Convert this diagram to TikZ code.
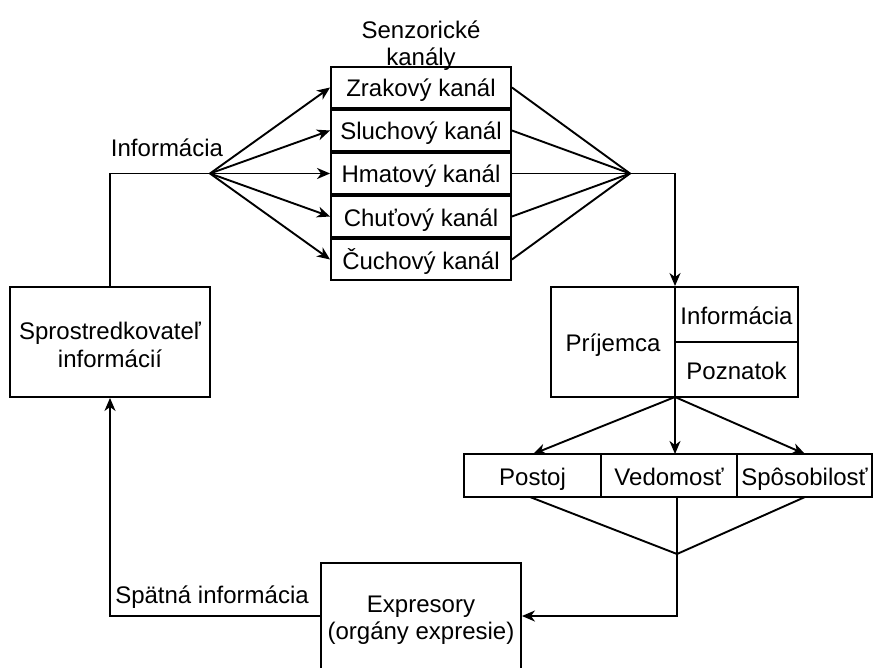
\documentclass[tikz,border=0pt]{standalone}
\usepackage{fontspec}
\setmainfont{Liberation Sans}
\usetikzlibrary{arrows.meta}
\begin{document}
\begin{tikzpicture}[x=1pt,y=-1pt,
  every node/.style={font=\fontsize{24}{27.5}\selectfont, inner sep=0pt},
  box/.style={draw, line width=1.9pt, align=center},
  one/.style={text height=19pt, text depth=0pt},
  chan/.style={box, one, minimum width=180pt, minimum height=41pt},
  conn/.style={line width=1.9pt},
  arr/.style={conn, -{Stealth[length=13pt, width=11pt, inset=4pt]}},
  lbl/.style={align=center}
]
\useasboundingbox (0,0) rectangle (874,668);
\fill[white] (0,0) rectangle (874,668);

% sensory channels
\node[lbl] (senz) at (421,45.5) {Senzorické\\kanály};
\node[chan] (zr) at (421,87.5)  {Zrakový kanál};
\node[chan] (sl) at (421,130.5) {Sluchový kanál};
\node[chan] (hm) at (421,173.5) {Hmatový kanál};
\node[chan] (ch) at (421,216.5) {Chuťový kanál};
\node[chan] (cu) at (421,259.5) {Čuchový kanál};

% mediator
\node[box, minimum width=200pt, minimum height=110pt] (spro) at (110,342) {};
\node[lbl] (sproT) at (110,345) {Sprostredkovateľ\\informácií};

% recipient
\node[box, one, minimum width=124pt, minimum height=110pt] (prij) at (613,342) {Príjemca};
\node[box, one, minimum width=123pt, minimum height=55pt] (pinf) at (736.5,314.5) {Informácia};
\node[box, one, minimum width=123pt, minimum height=55pt] (ppoz) at (736.5,369.5) {Poznatok};

% outcomes
\node[box, one, minimum width=137pt, minimum height=43pt] (post) at (532.5,475.5) {Postoj};
\node[box, one, minimum width=136pt, minimum height=43pt] (vedo) at (669,475.5) {Vedomosť};
\node[box, one, minimum width=135pt, minimum height=43pt] (spos) at (804.5,475.5) {Spôsobilosť};

% expressors
\node[box, minimum width=200pt, minimum height=107pt] (expr) at (421,616.5) {};
\node[lbl] (exprT) at (421,620) {Expresory\\(orgány expresie)};

% edge labels
\node[lbl, one] (linf) at (167,147) {Informácia};
\node[lbl, one] (lspa) at (212,594) {Spätná informácia};

% junction points
\coordinate (hubL) at (210,173.5);
\coordinate (hubR) at (630,173.5);
\coordinate (turnL) at (110,173.5);
\coordinate (turnR) at (675,173.5);
\coordinate (pbot) at (675,397);
\coordinate (hubB) at (677,554);
\coordinate (turnB) at (677,616);
\coordinate (turnS) at (110,616);
\coordinate (postB) at (530,497);
\coordinate (vedoB) at (677,497);
\coordinate (sposB) at (805,497);
\coordinate (postT) at (533,454);
\coordinate (vedoT) at (675,454);
\coordinate (sposT) at (805,454);

% information to the channels
\draw[conn] (spro.north) -- (turnL) -- (hubL);
\foreach \c in {zr,sl,hm,ch,cu}
  \draw[arr] (hubL) -- (\c.west);

% channels to the recipient
\foreach \c in {zr,sl,hm,ch,cu}
  \draw[conn] (\c.east) -- (hubR);
\draw[arr] (hubR) -- (turnR) -- (turnR |- prij.north);

% recipient to outcomes
\draw[arr] (pbot) -- (postT);
\draw[arr] (pbot) -- (vedoT);
\draw[arr] (pbot) -- (sposT);

% outcomes to expressors
\draw[conn] (postB) -- (hubB);
\draw[conn] (sposB) -- (hubB);
\draw[arr] (vedoB) -- (hubB) -- (turnB) -- (expr.east |- turnB);

% feedback
\draw[arr] (expr.west |- turnS) -- (turnS) -- (spro.south);
\end{tikzpicture}
\end{document}
